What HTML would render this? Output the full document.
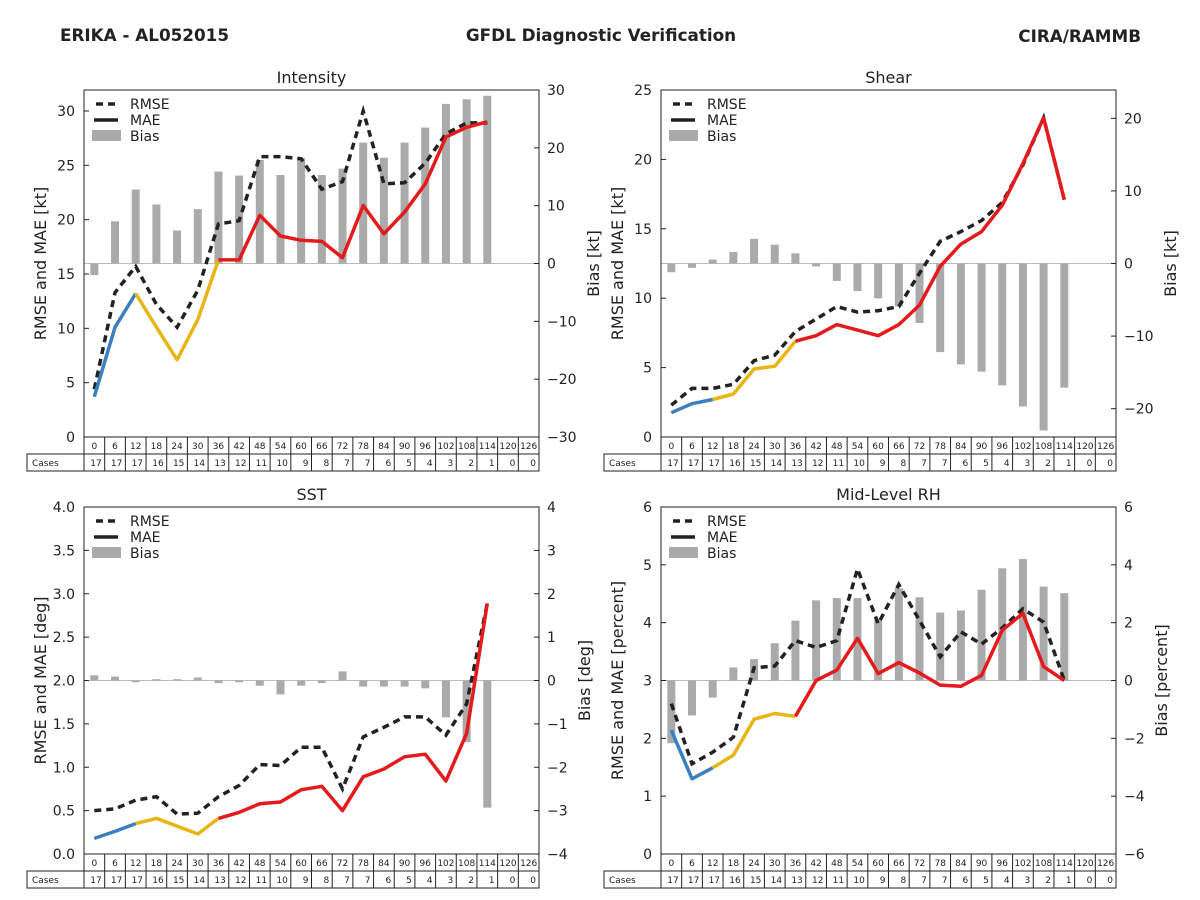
<!DOCTYPE html>
<html><head><meta charset="utf-8"><style>
body{margin:0;background:#fff;}
svg{display:block;font-family:"DejaVu Sans","Liberation Sans",sans-serif;}
</style></head><body>
<svg id="chart" width="1200" height="900" viewBox="0 0 1200 900">
<text x="60" y="41" font-size="16.8" font-weight="bold" fill="#222">ERIKA - AL052015</text>
<text x="601" y="41" font-size="16.8" font-weight="bold" fill="#222" text-anchor="middle">GFDL Diagnostic Verification</text>
<text x="1141" y="42" font-size="16.8" font-weight="bold" fill="#222" text-anchor="end">CIRA/RAMMB</text>
</svg>
<script>
const hours=[0,6,12,18,24,30,36,42,48,54,60,66,72,78,84,90,96,102,108,114,120,126];
const cases=[17,17,17,16,15,14,13,12,11,10,9,8,7,7,6,5,4,3,2,1,0,0];
const intRmse=[4.4,13.3,15.7,12.2,10.1,13.5,19.6,19.9,25.8,25.8,25.6,22.8,23.5,30.0,23.3,23.4,25.2,27.9,28.9,28.9];
const intMae=[3.7,10.1,13.2,10.1,7.1,10.8,16.3,16.3,20.4,18.5,18.1,18.0,16.5,21.3,18.7,20.7,23.3,27.6,28.5,29.0];
const intBias=[-2.0,7.3,12.8,10.2,5.7,9.4,15.9,15.2,17.9,15.3,18.2,15.3,16.4,20.9,18.3,20.9,23.5,27.6,28.4,29.0];
const shRmse=[2.3,3.5,3.5,3.8,5.5,5.9,7.6,8.5,9.4,9.0,9.1,9.4,11.8,14.1,14.8,15.6,16.9,19.6,23.0,17.1];
const shMae=[1.75,2.4,2.7,3.1,4.9,5.1,6.9,7.3,8.1,7.7,7.3,8.1,9.5,12.3,13.9,14.8,16.7,19.7,23.0,17.1];
const shBias=[-1.2,-0.6,0.55,1.6,3.4,2.6,1.4,-0.4,-2.4,-3.8,-4.8,-5.9,-8.2,-12.2,-13.9,-14.9,-16.8,-19.7,-23.0,-17.1];
const sstRmse=[0.50,0.52,0.62,0.66,0.46,0.47,0.66,0.79,1.03,1.02,1.23,1.23,0.75,1.35,1.46,1.58,1.58,1.37,1.73,2.89];
const sstMae=[0.18,0.26,0.35,0.41,0.32,0.23,0.41,0.48,0.58,0.60,0.74,0.78,0.50,0.89,0.98,1.12,1.15,0.84,1.39,2.89];
const sstBias=[0.12,0.09,-0.04,0.03,0.03,0.07,-0.06,-0.04,-0.12,-0.32,-0.12,-0.06,0.21,-0.14,-0.14,-0.14,-0.18,-0.85,-1.42,-2.93];
const rhRmse=[2.6,1.56,1.76,2.02,3.22,3.25,3.69,3.57,3.69,4.93,3.98,4.66,4.04,3.41,3.84,3.63,3.91,4.24,4.01,3.0];
const rhMae=[2.14,1.30,1.49,1.71,2.33,2.43,2.38,3.0,3.18,3.73,3.12,3.31,3.13,2.92,2.90,3.09,3.87,4.16,3.24,3.0];
const rhBias=[-2.17,-1.21,-0.59,0.45,0.74,1.29,2.07,2.77,2.85,2.85,2.1,3.19,2.88,2.35,2.42,3.14,3.88,4.20,3.25,3.02];
const intTicksL=[0,5,10,15,20,25,30], intTicksR=[-30,-20,-10,0,10,20,30];
const shTicksL=[0,5,10,15,20,25], shTicksR=[-20,-10,0,10,20];
const sstTicksL=[0,0.5,1,1.5,2,2.5,3,3.5,4], sstTicksR=[-4,-3,-2,-1,0,1,2,3,4];
const rhTicksL=[0,1,2,3,4,5,6], rhTicksR=[-6,-4,-2,0,2,4,6];

const svg=document.getElementById('chart');
const NS='http://www.w3.org/2000/svg';
function mk(tag,attrs,parent,txt){const e=document.createElementNS(NS,tag);for(const k in attrs)e.setAttribute(k,attrs[k]);if(txt!==undefined)e.textContent=txt;(parent||svg).appendChild(e);return e;}

function panel(o){
  const g=mk('g',{});
  
  
  const L=o.x,T=o.y,W=455,H=347,R=L+W,B=T+H;
  const cw=W/hours.length;
  const xs=i=>L+(i+0.5)*cw;
  const yl=v=>B-(v-o.lmin)/(o.lmax-o.lmin)*H;
  const yr=v=>B-(v-o.rmin)/(o.rmax-o.rmin)*H;
  const t=mk('text',{x:L+W/2,y:T-7,'font-size':16,'text-anchor':'middle',fill:'#222'},g,o.title);
  
  
  const z=mk('line',{x1:L,x2:R,y1:yr(0),y2:yr(0),stroke:'#bbb','stroke-width':1},g);
  
  
  o.bias.forEach((v,i)=>{
    const y0=yr(0),y1=yr(v);
    const b=mk('rect',{x:xs(i)-4,y:Math.min(y0,y1),width:8,height:Math.abs(y1-y0),fill:'#aaa'},g);
    
    
  });
  const rp=o.rmse.map((v,i)=>xs(i).toFixed(1)+','+yl(v).toFixed(1)).join(' ');
  const rl=mk('polyline',{points:rp,fill:'none',stroke:'#222','stroke-width':3.5,'stroke-dasharray':'7,5'},g);
  
  
  const segs=[[0,2,'#3a7fbf'],[2,6,'#e8b516'],[6,o.mae.length-1,'#e41a1c']];
  segs.forEach(s=>{
    const pts=[];for(let i=s[0];i<=s[1];i++)pts.push(xs(i).toFixed(1)+','+yl(o.mae[i]).toFixed(1));
    const m=mk('polyline',{points:pts.join(' '),fill:'none',stroke:s[2],'stroke-width':3.5,'stroke-linejoin':'round'},g);
    
    
  });
  const f=mk('rect',{x:L,y:T,width:W,height:H,fill:'none',stroke:'#222','stroke-width':1},g);
  
  
  o.tl.forEach(v=>{
    const y=yl(v);
    mk('line',{x1:L,x2:L+5,y1:y,y2:y,stroke:'#222'},g);
    const tx=mk('text',{x:L-9,y:y+5,'font-size':14,'text-anchor':'end',fill:'#222'},g,o.fmtL(v));
    
    
  });
  o.tr.forEach(v=>{
    const y=yr(v);
    mk('line',{x1:R-5,x2:R,y1:y,y2:y,stroke:'#222'},g);
    const tx=mk('text',{x:R+8,y:y+5,'font-size':14,'text-anchor':'start',fill:'#222'},g,v<0?'\u2212'+Math.abs(v):String(v));
    
    
  });
  const ly=mk('text',{x:0,y:0,'font-size':16,'text-anchor':'middle',fill:'#222',transform:`translate(${L-38},${T+H/2}) rotate(-90)`},g,o.ylab);
  
  
  const ry=mk('text',{x:0,y:0,'font-size':16,'text-anchor':'middle',fill:'#222',transform:`translate(${R+o.rOff},${T+H/2}) rotate(-90)`},g,o.rlab);
  
  
  const lg=mk('g',{},g);
  
  
  mk('line',{x1:L+12,x2:L+34,y1:T+14,y2:T+14,stroke:'#222','stroke-width':3.5,'stroke-dasharray':'7,5'},lg);
  mk('line',{x1:L+10,x2:L+34,y1:T+30,y2:T+30,stroke:'#222','stroke-width':3.5},lg);
  mk('rect',{x:L+8,y:T+40,width:29,height:11,fill:'#aaa'},lg);
  mk('text',{x:L+46,y:T+19,'font-size':14,fill:'#222'},lg,'RMSE');
  mk('text',{x:L+46,y:T+35,'font-size':14,fill:'#222'},lg,'MAE');
  mk('text',{x:L+46,y:T+51,'font-size':14,fill:'#222'},lg,'Bias');
  const tb=mk('g',{},g);
  
  
  const r1=B,r2=B+17,r3=B+34;
  mk('rect',{x:L,y:r1,width:W,height:34,fill:'none',stroke:'#222'},tb);
  mk('rect',{x:L-57,y:r2,width:57,height:17,fill:'none',stroke:'#222'},tb);
  mk('line',{x1:L,x2:R,y1:r2,y2:r2,stroke:'#222'},tb);
  mk('text',{x:L-52,y:r2+12,'font-size':9,fill:'#222'},tb,'Cases');
  hours.forEach((h,i)=>{
    if(i>0)mk('line',{x1:L+i*cw,x2:L+i*cw,y1:r1,y2:r3,stroke:'#222'},tb);
    mk('text',{x:xs(i),y:r1+12,'font-size':9,'text-anchor':'middle',fill:'#222'},tb,String(h));
    mk('text',{x:L+(i+1)*cw-3,y:r2+12,'font-size':9,'text-anchor':'end',fill:'#222'},tb,String(cases[i]));
  });
}
panel({key:'intensity',title:'Intensity',x:84,y:90,lmin:0,lmax:31.93,rmin:-30,rmax:30,rmse:intRmse,mae:intMae,bias:intBias,tl:intTicksL,tr:intTicksR,fmtL:v=>String(v),ylab:'RMSE and MAE [kt]',rlab:'Bias [kt]',rOff:60});
panel({key:'shear',title:'Shear',x:661,y:90,lmin:0,lmax:25,rmin:-23.9,rmax:23.9,rmse:shRmse,mae:shMae,bias:shBias,tl:shTicksL,tr:shTicksR,fmtL:v=>String(v),ylab:'RMSE and MAE [kt]',rlab:'Bias [kt]',rOff:60});
panel({key:'sst',title:'SST',x:84,y:507,lmin:0,lmax:4,rmin:-4,rmax:4,rmse:sstRmse,mae:sstMae,bias:sstBias,tl:sstTicksL,tr:sstTicksR,fmtL:v=>v.toFixed(1),ylab:'RMSE and MAE [deg]',rlab:'Bias [deg]',rOff:51});
panel({key:'rh',title:'Mid-Level RH',x:661,y:507,lmin:0,lmax:6,rmin:-6,rmax:6,rmse:rhRmse,mae:rhMae,bias:rhBias,tl:rhTicksL,tr:rhTicksR,fmtL:v=>String(v),ylab:'RMSE and MAE [percent]',rlab:'Bias [percent]',rOff:51});
</script>
</body></html>
